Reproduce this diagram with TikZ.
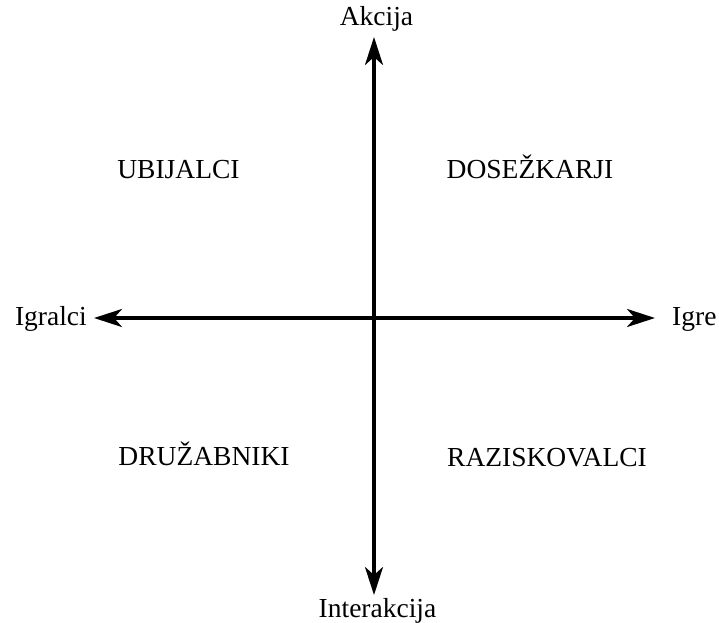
\documentclass[tikz,border=0pt]{standalone}
\usepackage{fontspec}
\setmainfont{Liberation Serif}
\usetikzlibrary{arrows.meta}
\tikzset{
  axislabel/.style={font=\fontsize{27.5}{32}\selectfont,inner sep=0pt},
  typelabel/.style={font=\fontsize{27.5}{32}\selectfont,inner sep=0pt,anchor=base},
  axis/.style={{Stealth[length=28pt,width=18pt,inset=8pt]}-{Stealth[length=28pt,width=18pt,inset=8pt]},line width=3.5pt}
}

\begin{document}
\begin{tikzpicture}[x=1pt,y=-1pt]
  \useasboundingbox (0,0) rectangle (719,622);
  % ends of the two axes
  \coordinate (top) at (374,37);
  \coordinate (bottom) at (374,595);
  \coordinate (left) at (94,318);
  \coordinate (right) at (655,318);
  \draw[axis] (bottom) -- (top);
  \draw[axis] (left) -- (right);
  % axis names
  \node[axislabel,anchor=base] (action) at (376.5,25) {Akcija};
  \node[axislabel,anchor=base] (interaction) at (377.5,617) {Interakcija};
  \node[axislabel,anchor=base east] (players) at (87,325) {Igralci};
  \node[axislabel,anchor=base west] (games) at (672,325) {Igre};
  % player types
  \node[typelabel] (killers) at (178.5,178) {UBIJALCI};
  \node[typelabel] (achievers) at (530,178) {DOSEŽKARJI};
  \node[typelabel] (socializers) at (204,465) {DRUŽABNIKI};
  \node[typelabel] (explorers) at (547,466) {RAZISKOVALCI};
\end{tikzpicture}
\end{document}
